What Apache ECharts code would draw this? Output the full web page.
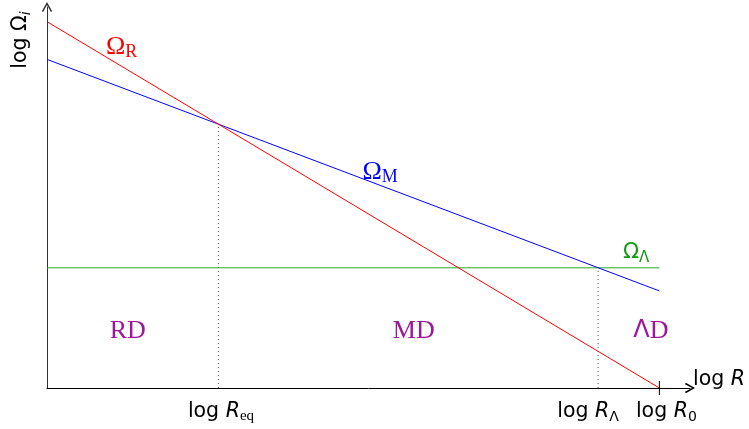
<!DOCTYPE html>
<html><head><meta charset="utf-8">
<style>html,body{margin:0;padding:0;background:#fff}#c{width:749px;height:429px}</style>
<script src="https://cdn.jsdelivr.net/npm/echarts@6/dist/echarts.min.js"></script>
</head><body><div id="c"></div>
<script>
// x: log R (0 at origin, 10 = log R0), y: log Omega
var xMax = 10.5, yMax = 10.4;
var radiation = [[0, 10.0], [10, 0.0]];
var matter = [[0, 8.97], [10, 2.65]];
var lambda = [[0, 3.28], [10, 3.28]];
var eqLine = [[2.8, 0], [2.8, 7.2]];
var lamLine = [[9.0, 0], [9.0, 3.28]];
var tickValues = [2.8, 9.0, 10];
var tickLabels = ['{pe|}{s|log }{it|R}{subs|eq}', '{s|log }{it|R}{subl|Λ}{pl|}', '{p0|}{s|log }{it|R}{subl|0}'];
var lineLabels = [
  {pos: [1.22, 9.31], text: '{o|Ω}{sub|R}', color: '#ff0000'},
  {pos: [5.44, 5.90], text: '{o|Ω}{sub|M}', color: '#0000ff'},
  {pos: [9.62, 3.71], text: '{os|Ω}{subs|Λ}', color: '#119911'}
];
var regionLabels = [
  {pos: [1.32, 1.56], text: '{r|RD}'},
  {pos: [5.99, 1.56], text: '{r|MD}'},
  {pos: [9.86, 1.56], text: '{rs|Λ}{r|D}'}
];

var sans = 'DejaVu Sans';
var serif = 'Liberation Serif';
var chevron = 'path://M5,0 L10,8.8 L8.7,9.6 L5,2.8 L1.3,9.6 L0,8.8 Z';
var purple = '#9c179c';

function lineSeries(data, color, extra) {
  return Object.assign({
    type: 'line', data: data, showSymbol: false, symbol: 'none', silent: true,
    lineStyle: {color: color, width: 1}, z: 3
  }, extra || {});
}

var chart = echarts.init(document.getElementById('c'), null, {renderer: 'canvas'});
chart.setOption({
  animation: false,
  grid: {left: 47, right: 59, top: 7, bottom: 41, containLabel: false},
  xAxis: {
    type: 'value', min: 0, max: xMax,
    name: '{s|log }{it|R}', nameLocation: 'end', nameGap: 3,
    nameTextStyle: {padding: [0, 0, 16, 0], rich: {
      s: {fontFamily: sans, fontSize: 20.5, color: '#000'},
      it: {fontFamily: sans, fontSize: 20.5, fontStyle: 'italic', color: '#000'}
    }},
    axisLine: {show: true, symbol: ['none', chevron], symbolSize: [12, 10], lineStyle: {color: '#000', width: 1}},
    axisTick: {show: false},
    splitLine: {show: false},
    axisLabel: {
      customValues: tickValues, margin: 12,
      formatter: function (v) { return tickLabels[tickValues.indexOf(v)]; },
      rich: {
        s: {fontFamily: sans, fontSize: 20.5, color: '#000', lineHeight: 24},
        it: {fontFamily: sans, fontSize: 20.5, fontStyle: 'italic', color: '#000', lineHeight: 24},
        subs: {fontFamily: serif, fontSize: 15, color: '#000', verticalAlign: 'bottom', lineHeight: 12},
        subl: {fontFamily: sans, fontSize: 14, color: '#000', verticalAlign: 'bottom', lineHeight: 12},
        pe: {width: 5},
        pl: {width: 20},
        p0: {width: 14}
      }
    }
  },
  yAxis: {
    type: 'value', min: 0, max: yMax,
    axisLine: {show: true, symbol: ['none', chevron], symbolSize: [12, 10], lineStyle: {color: '#333', width: 1}},
    axisTick: {show: false}, axisLabel: {show: false}, splitLine: {show: false}
  },
  graphic: [{
    type: 'text', x: 21, y: 40, rotation: Math.PI / 2,
    style: {
      text: '{s|log Ω}{i|i}', align: 'center', verticalAlign: 'middle',
      rich: {
        s: {fontFamily: sans, fontSize: 20.5, fill: '#000', lineHeight: 24},
        i: {fontFamily: sans, fontSize: 14, fontStyle: 'italic', fill: '#000', verticalAlign: 'bottom', lineHeight: 13}
      }
    }
  }],
  series: [
    lineSeries(eqLine, '#666', {lineStyle: {color: '#555', width: 1, type: [1, 3]}, z: 2}),
    lineSeries(lamLine, '#666', {lineStyle: {color: '#555', width: 1, type: [1, 3]}, z: 2}),
    lineSeries(lambda, '#22aa22'),
    lineSeries(matter, '#0000ff'),
    lineSeries(radiation, '#ff0000'),
    {
      type: 'scatter', data: [[10, 0]], symbol: 'rect', symbolSize: [1, 14], silent: true,
      itemStyle: {color: '#000', opacity: 1}, z: 5
    },
    {
      type: 'scatter', symbolSize: 0, silent: true, z: 6,
      itemStyle: {opacity: 1},
      data: lineLabels.map(function (d) {
        return {value: d.pos, label: {color: d.color, formatter: d.text}};
      }),
      label: {show: true, position: 'inside', opacity: 1, rich: {
        o: {fontFamily: serif, fontSize: 26, lineHeight: 28},
        sub: {fontFamily: serif, fontSize: 18, verticalAlign: 'bottom', lineHeight: 20},
        os: {fontFamily: sans, fontSize: 21, lineHeight: 28},
        subs: {fontFamily: sans, fontSize: 15, verticalAlign: 'bottom', lineHeight: 18}
      }}
    },
    {
      type: 'scatter', symbolSize: 0, silent: true, z: 6,
      itemStyle: {opacity: 1},
      data: regionLabels.map(function (d) {
        return {value: d.pos, label: {formatter: d.text}};
      }),
      label: {show: true, position: 'inside', opacity: 1, color: purple, rich: {
        r: {fontFamily: serif, fontSize: 26, color: purple},
        rs: {fontFamily: sans, fontSize: 24, color: purple}
      }}
    }
  ]
});
</script></body></html>
